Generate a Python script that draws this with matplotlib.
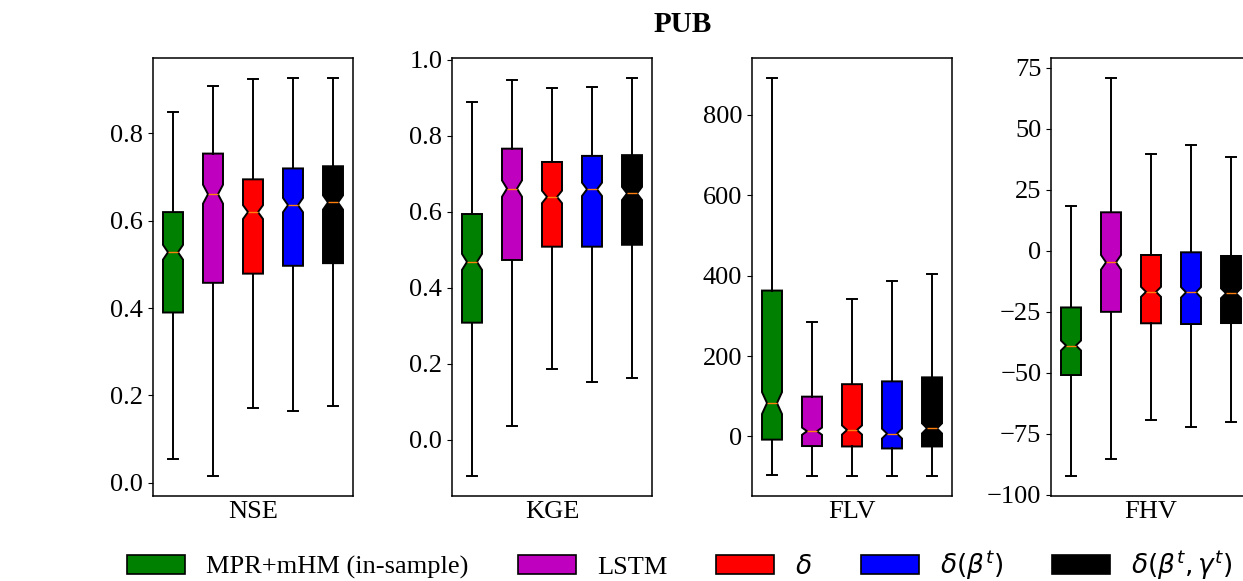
import numpy as np
import matplotlib
matplotlib.use('Agg')
import matplotlib.pyplot as plt
from matplotlib.patches import Patch

plt.rcParams['font.family'] = ['Liberation Serif', 'DejaVu Sans']
plt.rcParams['font.size'] = 19

models = ['MPR+mHM (in-sample)', 'LSTM', r'$\delta$', r'$\delta(\beta^t)$',
          r'$\delta(\beta^t, \gamma^t)$']
colors = ['green', 'm', 'red', 'blue', 'black']
metrics = ['NSE', 'KGE', 'FLV', 'FHV']
n_basins = 460

# box statistics per metric: lower whisker, Q1, median, Q3, upper whisker
nse_low  = [0.055, 0.016, 0.172, 0.165, 0.176]
nse_q1   = [0.390, 0.458, 0.479, 0.497, 0.503]
nse_med  = [0.528, 0.661, 0.620, 0.636, 0.642]
nse_q3   = [0.620, 0.754, 0.695, 0.720, 0.725]
nse_high = [0.849, 0.908, 0.925, 0.927, 0.928]

kge_low  = [-0.095, 0.035, 0.185, 0.152, 0.163]
kge_q1   = [0.308, 0.473, 0.508, 0.508, 0.513]
kge_med  = [0.468, 0.661, 0.639, 0.659, 0.648]
kge_q3   = [0.594, 0.766, 0.731, 0.747, 0.749]
kge_high = [0.888, 0.946, 0.926, 0.928, 0.953]

flv_low  = [-96, -98, -98, -98, -98]
flv_q1   = [-8, -24, -25, -30, -25]
flv_med  = [83, 13, 16, 7, 20]
flv_q3   = [363, 99, 130, 137, 147]
flv_high = [893, 284, 341, 387, 403]

fhv_low  = [-92.3, -85.6, -69.6, -72.5, -70.2]
fhv_q1   = [-51.0, -25.1, -29.8, -30.1, -29.7]
fhv_med  = [-38.9, -4.8, -16.9, -17.1, -17.5]
fhv_q3   = [-23.3, 15.7, -1.8, -0.7, -2.2]
fhv_high = [18.4, 70.9, 39.6, 43.2, 38.4]

stats = {
    'NSE': (nse_low, nse_q1, nse_med, nse_q3, nse_high),
    'KGE': (kge_low, kge_q1, kge_med, kge_q3, kge_high),
    'FLV': (flv_low, flv_q1, flv_med, flv_q3, flv_high),
    'FHV': (fhv_low, fhv_q1, fhv_med, fhv_q3, fhv_high),
}

W, H = 1243, 581
fig = plt.figure(figsize=(W / 100, H / 100), dpi=100)

lw = 1.4
lefts = [153, 452, 752, 1051]
for left, metric in zip(lefts, metrics):
    ax = fig.add_axes([left / W, (H - 495.7) / H, 200 / W, 438 / H])
    lo, q1, med, q3, hi = stats[metric]
    bxpstats = []
    for i in range(len(models)):
        half = 1.57 * (q3[i] - q1[i]) / np.sqrt(n_basins)
        bxpstats.append(dict(whislo=lo[i], q1=q1[i], med=med[i], q3=q3[i],
                             whishi=hi[i], cilo=med[i] - half,
                             cihi=med[i] + half, fliers=[]))
    bp = ax.bxp(bxpstats, positions=range(1, 6), widths=0.5, shownotches=True,
                patch_artist=True, showfliers=False,
                boxprops=dict(linewidth=lw),
                whiskerprops=dict(linewidth=lw),
                capprops=dict(linewidth=lw),
                medianprops=dict(color='C1', linewidth=1.0))
    for box, c in zip(bp['boxes'], colors):
        box.set_facecolor(c)
        box.set_edgecolor('black')
    ax.set_xlim(0.5, 5.5)
    ax.set_xticks([])
    ax.set_xlabel(metric)
    for sp in ax.spines.values():
        sp.set_linewidth(1.1)

fig.text(683 / W, 1 - 25 / H, 'PUB', ha='center', va='center',
         fontweight='bold', fontsize=21)

handles = [Patch(facecolor=c, edgecolor='black', linewidth=1.2, label=m)
           for c, m in zip(colors, models)]
fig.legend(handles=handles, ncol=5, loc='center',
           bbox_to_anchor=(680 / W, 1 - 565 / H), frameon=False,
           handlelength=2.2, columnspacing=1.85)

plt.savefig('out.png', dpi=100)
